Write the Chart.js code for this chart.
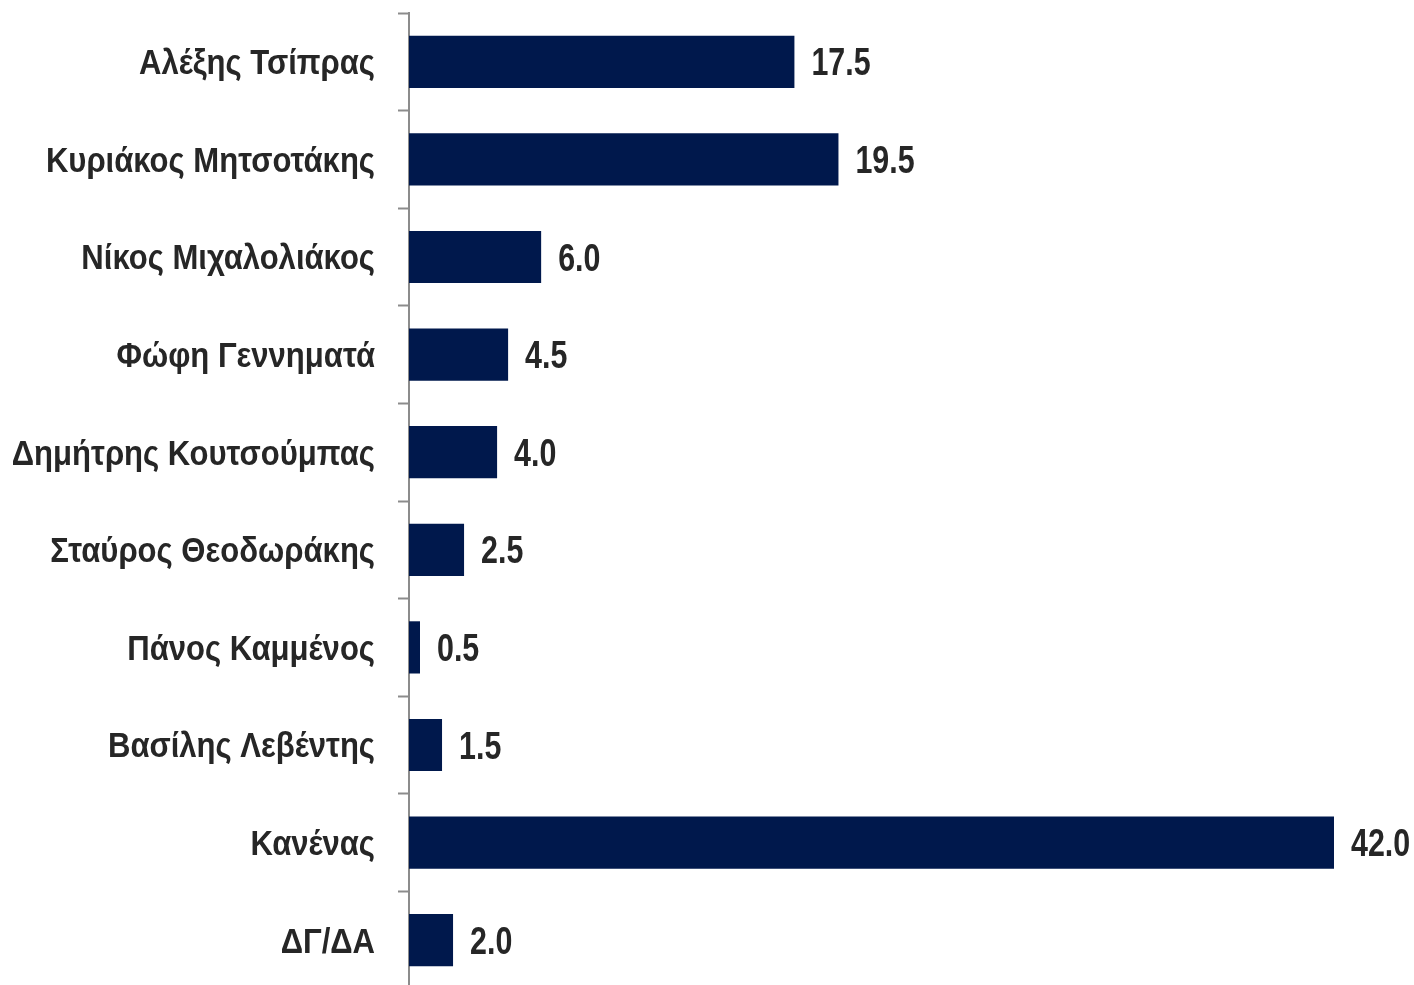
<!DOCTYPE html>
<html lang="el">
<head>
    <meta charset="UTF-8">
    <title>Leader preference</title>
    <script src="https://cdn.jsdelivr.net/npm/chart.js@4.4.1/dist/chart.umd.min.js"></script>
    <style>
        html, body { margin: 0; padding: 0; background: #ffffff; overflow: hidden; }
        /* plot runs slightly past the bottom edge of the window, like the original */
        #wrap { width: 1414px; height: 989px; position: relative; }
    </style>
</head>
<body>
    <div id="wrap"><canvas id="chart"></canvas></div>
    <script>
        const names = ['Αλέξης Τσίπρας', 'Κυριάκος Μητσοτάκης', 'Νίκος Μιχαλολιάκος', 'Φώφη Γεννηματά',
            'Δημήτρης Κουτσούμπας', 'Σταύρος Θεοδωράκης', 'Πάνος Καμμένος', 'Βασίλης Λεβέντης',
            'Κανένας', 'ΔΓ/ΔΑ'];
        const values = [17.5, 19.5, 6.0, 4.5, 4.0, 2.5, 0.5, 1.5, 42.0, 2.0];

        const FONT = '"Liberation Sans", Arial, sans-serif';

        // draw condensed text (narrow font look) by squeezing horizontally
        function narrowText(ctx, text, x, y, size, sx, align) {
            ctx.save();
            ctx.font = 'bold ' + size + 'px ' + FONT;
            ctx.fillStyle = '#262626';
            ctx.textAlign = align;
            ctx.textBaseline = 'alphabetic';
            ctx.scale(sx, 1);
            ctx.fillText(text, x / sx, y + size * 0.358);
            ctx.restore();
        }

        // category names and value labels
        const textPlugin = {
            id: 'textPlugin',
            afterDatasetsDraw(chart) {
                const ctx = chart.ctx;
                const yScale = chart.scales.y;
                const meta = chart.getDatasetMeta(0);
                names.forEach((name, i) => {
                    narrowText(ctx, name, 375, yScale.getPixelForTick(i), 34.5, 0.9, 'right');
                });
                meta.data.forEach((bar, i) => {
                    narrowText(ctx, values[i].toFixed(1), bar.x + 17, bar.y, 38, 0.8, 'left');
                });
            }
        };

        new Chart(document.getElementById('chart'), {
            type: 'bar',
            data: {
                labels: names,
                datasets: [{
                    data: values,
                    backgroundColor: '#00184c',
                    borderWidth: 0,
                    barPercentage: 0.535,
                    categoryPercentage: 1
                }]
            },
            options: {
                indexAxis: 'y',
                responsive: true,
                maintainAspectRatio: false,
                animation: false,
                layout: { padding: { top: 13, right: 80, bottom: 0, left: 0 } },
                plugins: { legend: { display: false }, tooltip: { enabled: false } },
                scales: {
                    x: { display: false, min: 0, max: 42 },
                    y: {
                        afterFit(scale) {
                            scale.width = 409;
                            scale.paddingTop = 0;
                            scale.paddingBottom = 0;
                        },
                        grid: {
                            drawOnChartArea: false,
                            drawTicks: true,
                            tickLength: 11,
                            tickWidth: 2,
                            color: '#8c8c8c'
                        },
                        border: { color: '#8c8c8c', width: 2 },
                        ticks: { display: false }
                    }
                }
            },
            plugins: [textPlugin]
        });
    </script>
</body>
</html>
